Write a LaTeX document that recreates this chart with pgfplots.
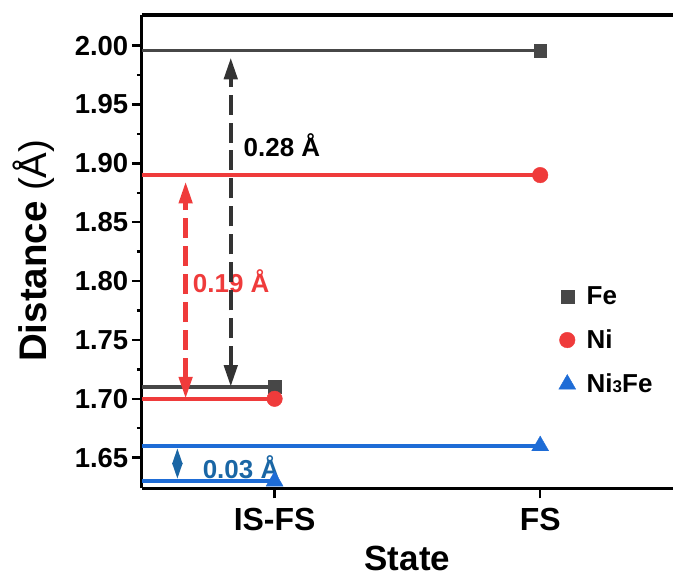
\documentclass[border=0pt]{standalone}
\usepackage{fontspec}
\setmainfont{Liberation Sans}
\usepackage{pgfplots}
\pgfplotsset{compat=1.18}
\usetikzlibrary{arrows.meta}

\definecolor{feGray}{HTML}{474747}
\definecolor{niRed}{HTML}{EF3B3B}
\definecolor{nfBlue}{HTML}{1E6CD6}
\definecolor{gapBlue}{HTML}{1A66A5}
\definecolor{arrBlack}{HTML}{333333}

\begin{document}
\begin{tikzpicture}
\begin{axis}[
  name=ax,
  scale only axis,
  width=532pt, height=474pt,
  xmin=0.5, xmax=2.5,
  ymin=1.624, ymax=2.026,
  clip=false,
  axis lines*=left,
  axis line style={line width=3.2pt, black},
  xtick={1,2},
  xticklabels={IS-FS,FS},
  ytick={1.65,1.70,1.75,1.80,1.85,1.90,1.95,2.00},
  minor ytick={1.675,1.725,1.775,1.825,1.875,1.925,1.975},
  tick align=outside,
  major tick length=10pt,
  minor tick length=5pt,
  every tick/.style={line width=2.5pt, black},
  yticklabel style={/pgf/number format/.cd, fixed, fixed zerofill, precision=2, assume math mode=true},
  ticklabel style={font=\fontsize{27.5}{32}\selectfont\bfseries},
  xticklabel style={font=\fontsize{32}{36}\selectfont\bfseries, yshift=-6pt},
  xlabel={\bfseries State},
  ylabel={\bfseries Distance \mdseries(Å)},
  xlabel style={font=\fontsize{35}{40}\selectfont, at={(axis description cs:0.5,-0.1745)}, anchor=base},
  ylabel style={font=\fontsize{38.5}{44}\selectfont, at={(axis description cs:-0.157,0.502)}, anchor=south},
  legend style={draw=none, fill=none, font=\fontsize{26}{30}\selectfont\bfseries,
    at={(rel axis cs:0.779,0.435)}, anchor=north west, row sep=20pt, column sep=9pt},
  legend cell align=left,
]
% top frame line (no right frame)
\draw[line width=3.2pt, black] (rel axis cs:0,1) -- (rel axis cs:1,1);

% Fe
\addplot[feGray, line width=3.5pt, mark=square*, mark indices={2}, mark size=6.5pt,
  mark options={solid, line width=0.4pt}, forget plot]
  coordinates {(0.5,1.996) (2,1.996)};
\addplot[feGray, line width=3.5pt, mark=square*, mark indices={2}, mark size=6.5pt,
  mark options={solid, line width=0.4pt}, forget plot]
  coordinates {(0.5,1.71) (1,1.71)};
% Ni
\addplot[niRed, line width=3.5pt, mark=*, mark indices={2}, mark size=7.8pt,
  mark options={solid, line width=0.4pt}, forget plot]
  coordinates {(0.5,1.89) (2,1.89)};
\addplot[niRed, line width=3.5pt, mark=*, mark indices={2}, mark size=7.8pt,
  mark options={solid, line width=0.4pt}, forget plot]
  coordinates {(0.5,1.70) (1,1.70)};
% Ni3Fe
\addplot[nfBlue, line width=3.5pt, mark=triangle*, mark indices={2}, mark size=9.8pt,
  mark options={solid, line width=0.4pt}, forget plot]
  coordinates {(0.5,1.66) (2,1.66)};
\addplot[nfBlue, line width=3.5pt, mark=triangle*, mark indices={2}, mark size=9.8pt,
  mark options={solid, line width=0.4pt}, forget plot]
  coordinates {(0.5,1.63) (1,1.63)};

% gap annotations
\node[anchor=west, inner sep=0pt, text=niRed, font=\fontsize{26}{30}\selectfont\bfseries]
  at (axis cs:0.692,1.80) {0.19 Å};
\node[anchor=west, inner sep=0pt, text=black, font=\fontsize{26}{30}\selectfont\bfseries]
  at (axis cs:0.883,1.9157) {0.28 Å};
\node[anchor=west, inner sep=0pt, text=gapBlue, font=\fontsize{26}{30}\selectfont\bfseries]
  at (axis cs:0.729,1.642) {0.03 Å};

\addplot[niRed, line width=4.5pt, dash pattern=on 20pt off 8pt,
  {Triangle[width=13pt,length=22pt]}-{Triangle[width=13pt,length=22pt]}, forget plot]
  coordinates {(0.665,1.70) (0.665,1.8846)};
\addplot[arrBlack, line width=4.5pt, dash pattern=on 20pt off 8pt,
  {Triangle[width=13pt,length=22pt]}-{Triangle[width=13pt,length=22pt]}, forget plot]
  coordinates {(0.835,1.71) (0.835,1.990)};
\addplot[gapBlue, line width=2.5pt,
  {Triangle[width=10pt,length=16pt]}-{Triangle[width=10pt,length=16pt]}, forget plot]
  coordinates {(0.634,1.632) (0.634,1.658)};

% legend (marks only)
\addlegendimage{only marks, mark=square*, feGray, mark size=6.5pt}
\addlegendentry{Fe}
\addlegendimage{only marks, mark=*, niRed, mark size=7.8pt}
\addlegendentry{Ni}
\addlegendimage{only marks, mark=triangle*, nfBlue, mark size=9.8pt}
\addlegendentry{Ni{\fontsize{17}{20}\selectfont 3}Fe}
\end{axis}
\pgfresetboundingbox
\path (-142pt,-89pt) rectangle (532pt,489pt);
\end{tikzpicture}
\end{document}
